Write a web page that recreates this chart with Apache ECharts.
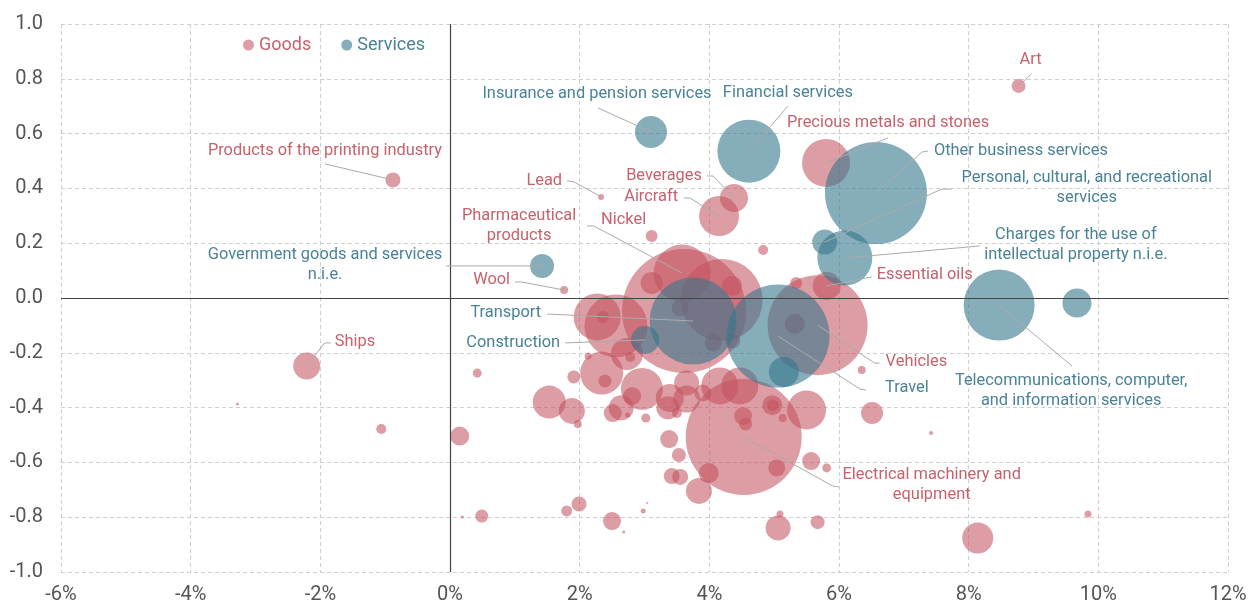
<!DOCTYPE html>
<html>
<head>
<meta charset="utf-8">
<script src="https://cdn.jsdelivr.net/npm/echarts@6/dist/echarts.min.js"></script>
<style>
  html, body { margin: 0; padding: 0; background: #fff; }
  #chart { width: 1255px; height: 606px; }
</style>
</head>
<body>
<div id="chart"></div>
<script>
// [growth %, correlation, bubble size, label]
const goods = [
  [8.77, 0.774, 14, 'Art'],
  [5.80, 0.493, 48, 'Precious metals and stones'],
  [-0.88, 0.431, 15, 'Products of the printing industry'],
  [2.33, 0.369, 6, 'Lead'],
  [4.38, 0.365, 28, 'Beverages'],
  [4.15, 0.299, 40, 'Aircraft'],
  [3.11, 0.226, 12, 'Nickel'],
  [4.83, 0.175, 10],
  [1.76, 0.029, 8, 'Wool'],
  [5.34, 0.055, 12],
  [5.81, 0.044, 28, 'Essential oils'],
  [3.11, 0.055, 22],
  [4.35, 0.044, 20],
  [3.55, -0.036, 17],
  [5.32, -0.095, 20],
  [4.06, -0.164, 17],
  [4.36, -0.157, 15],
  [3.61, -0.047, 124],
  [3.58, 0.091, 57, 'Pharmaceutical products'],
  [4.19, -0.007, 82],
  [5.67, -0.099, 100, 'Vehicles'],
  [2.27, -0.069, 47],
  [2.36, -0.069, 12],
  [2.56, -0.102, 63],
  [2.73, -0.204, 32],
  [2.78, -0.215, 10],
  [2.34, -0.274, 43],
  [2.39, -0.303, 13],
  [2.13, -0.212, 7],
  [1.91, -0.288, 13],
  [0.42, -0.274, 9],
  [1.53, -0.380, 33],
  [1.88, -0.412, 26],
  [1.97, -0.460, 8],
  [2.96, -0.332, 42],
  [2.81, -0.358, 18],
  [2.51, -0.420, 18],
  [2.64, -0.401, 25],
  [3.02, -0.438, 9],
  [2.74, -0.427, 5],
  [3.36, -0.401, 23],
  [3.39, -0.365, 28],
  [3.50, -0.420, 10],
  [3.65, -0.310, 25],
  [3.65, -0.369, 27],
  [3.90, -0.347, 17],
  [4.16, -0.321, 37],
  [4.47, -0.321, 37],
  [4.52, -0.431, 18],
  [4.56, -0.460, 13],
  [4.97, -0.391, 20],
  [4.98, -0.391, 12],
  [5.13, -0.438, 8],
  [5.50, -0.409, 39],
  [6.35, -0.263, 8],
  [6.51, -0.420, 22],
  [3.38, -0.515, 18],
  [3.53, -0.573, 14],
  [3.42, -0.650, 16],
  [3.55, -0.653, 16],
  [3.84, -0.704, 26],
  [3.99, -0.639, 20],
  [5.57, -0.595, 18],
  [5.81, -0.620, 9],
  [5.04, -0.620, 17],
  [4.53, -0.507, 116, 'Electrical machinery and equipment'],
  [0.15, -0.504, 19],
  [0.19, -0.799, 3],
  [0.49, -0.796, 13],
  [1.80, -0.777, 11],
  [1.99, -0.752, 15],
  [2.50, -0.814, 18],
  [2.68, -0.854, 3],
  [2.98, -0.777, 5],
  [3.04, -0.748, 2],
  [5.06, -0.839, 25],
  [5.09, -0.788, 7],
  [5.67, -0.818, 14],
  [8.14, -0.876, 31],
  [9.84, -0.788, 7],
  [7.42, -0.493, 4],
  [-2.21, -0.248, 27, 'Ships'],
  [-3.28, -0.387, 3],
  [-1.06, -0.478, 10]
];

const services = [
  [3.10, 0.606, 32, 'Insurance and pension services'],
  [4.61, 0.536, 63, 'Financial services'],
  [6.57, 0.383, 102, 'Other business services'],
  [5.78, 0.204, 25, 'Personal, cultural, and recreational services'],
  [6.09, 0.146, 55, 'Charges for the use of intellectual property n.i.e.'],
  [1.42, 0.117, 24, 'Government goods and services n.i.e.'],
  [8.47, -0.026, 71, 'Telecommunications, computer, and information services'],
  [9.67, -0.018, 29],
  [3.75, -0.084, 87, 'Transport'],
  [3.01, -0.153, 28, 'Construction'],
  [5.06, -0.139, 103, 'Travel'],
  [5.15, -0.270, 30]
];

const xTicks = { min: -6, max: 12, step: 2 };
const yTicks = { min: -1, max: 1, step: 0.2 };

const GOODS_COLOR = 'rgba(194, 80, 92, 0.7)';
const SERVICES_COLOR = 'rgba(54, 118, 140, 0.75)';
const GOODS_TEXT = '#c8616c';
const SERVICES_TEXT = '#4a8297';

// label placement, offsets in px from bubble center
const labelPlacement = {
  'Art': { text: 'Art', at: [12, -26], align: 'center', line: [[13, -12]] },
  'Insurance and pension services': { text: 'Insurance and pension services', at: [-54, -38], align: 'center', line: [[-53, -24]] },
  'Financial services': { text: 'Financial services', at: [39, -58], align: 'center', line: [[39, -45]] },
  'Precious metals and stones': { text: 'Precious metals and stones', at: [62, -40], align: 'center', line: [[62, -25]] },
  'Other business services': { text: 'Other business services', at: [58, -42], align: 'left', line: [[46, -41], [52, -42]] },
  'Personal, cultural, and recreational services': { text: 'Personal, cultural, and recreational\nservices', at: [262, -54], align: 'center', line: [[117, -53], [127, -53]] },
  'Charges for the use of intellectual property n.i.e.': { text: 'Charges for the use of\nintellectual property n.i.e.', at: [231, -13], align: 'center', line: [[135, -12]] },
  'Essential oils': { text: 'Essential oils', at: [50, -11], align: 'left', line: [[45, -9]] },
  'Products of the printing industry': { text: 'Products of the printing industry', at: [-68, -29], align: 'center', line: [[-68, -16]] },
  'Lead': { text: 'Lead', at: [-39, -16], align: 'right', line: [[-27, -15], [-34, -16]] },
  'Beverages': { text: 'Beverages', at: [-32, -22], align: 'right', line: [[-21, -22], [-27, -22]] },
  'Aircraft': { text: 'Aircraft', at: [-41, -19], align: 'right', line: [[-29, -18], [-35, -18]] },
  'Pharmaceutical products': { text: 'Pharmaceutical\nproducts', at: [-163, -47], align: 'center', line: [[-88, -47], [-95, -47]] },
  'Nickel': { text: 'Nickel', at: [-28, -16], align: 'center' },
  'Government goods and services n.i.e.': { text: 'Government goods and services\nn.i.e.', at: [-217, -1], align: 'center', line: [[-96, 0]] },
  'Wool': { text: 'Wool', at: [-54, -10], align: 'right', line: [[-42, -8], [-49, -8]] },
  'Ships': { text: 'Ships', at: [28, -24], align: 'left', line: [[18, -23], [24, -23]] },
  'Transport': { text: 'Transport', at: [-152, -8], align: 'right', line: [[-146, -7]] },
  'Construction': { text: 'Construction', at: [-85, 3], align: 'right', line: [[-80, 3]] },
  'Vehicles': { text: 'Vehicles', at: [68, 37], align: 'left', line: [[57, 38], [62, 38]] },
  'Travel': { text: 'Travel', at: [107, 52], align: 'left', line: [[82, 53], [88, 54]] },
  'Telecommunications, computer, and information services': { text: 'Telecommunications, computer,\nand information services', at: [72, 86], align: 'center', line: [[73, 61]] },
  'Electrical machinery and equipment': { text: 'Electrical machinery and\nequipment', at: [188, 48], align: 'center', line: [[89, 49], [95, 50]] }
};

const annotations = [];
goods.forEach(d => { if (d[3]) annotations.push({ x: d[0], y: d[1], name: d[3], color: GOODS_TEXT }); });
services.forEach(d => { if (d[3]) annotations.push({ x: d[0], y: d[1], name: d[3], color: SERVICES_TEXT }); });

const chart = echarts.init(document.getElementById('chart'));

const option = {
  animation: false,
  textStyle: { fontFamily: 'Roboto' },
  grid: { left: 61, right: 27, top: 24, bottom: 34 },
  legend: {
    left: 238,
    top: 31,
    icon: 'circle',
    itemWidth: 11,
    itemHeight: 11,
    itemGap: 30,
    textStyle: { fontSize: 18, fontFamily: 'Roboto' },
    data: [
      { name: 'Goods', textStyle: { color: GOODS_TEXT } },
      { name: 'Services', textStyle: { color: SERVICES_TEXT } }
    ]
  },
  xAxis: {
    type: 'value',
    min: xTicks.min,
    max: xTicks.max,
    interval: xTicks.step,
    axisLine: { show: false, onZero: false },
    axisTick: { show: false },
    axisLabel: { color: '#555', fontSize: 20, margin: 13, formatter: v => v + '%' },
    splitLine: { lineStyle: { type: [4, 3], color: '#cfcfcf' } }
  },
  yAxis: {
    type: 'value',
    min: yTicks.min,
    max: yTicks.max,
    interval: yTicks.step,
    axisLine: { show: false, onZero: false },
    axisTick: { show: false },
    axisLabel: { color: '#555', fontSize: 20, margin: 18, formatter: v => v.toFixed(1) },
    splitLine: { lineStyle: { type: [4, 3], color: '#cfcfcf' } }
  },
  series: [
    {
      name: 'Goods',
      type: 'scatter',
      data: goods,
      symbolSize: d => d[2],
      itemStyle: { color: GOODS_COLOR },
      emphasis: { disabled: true },
      z: 2,
      markLine: {
        silent: true,
        symbol: 'none',
        label: { show: false },
        lineStyle: { color: '#444', type: 'solid', width: 1.2 },
        data: [{ xAxis: 0 }, { yAxis: 0 }]
      }
    },
    {
      name: 'Services',
      type: 'scatter',
      data: services,
      symbolSize: d => d[2],
      itemStyle: { color: SERVICES_COLOR },
      emphasis: { disabled: true },
      z: 3
    },
    {
      type: 'custom',
      silent: true,
      z: 5,
      data: annotations.map(a => [a.x, a.y]),
      renderItem: (params, api) => {
        const a = annotations[params.dataIndex];
        const p = labelPlacement[a.name];
        const c = api.coord([api.value(0), api.value(1)]);
        const children = [];
        if (p.line) {
          const pts = [c].concat(p.line.map(o => [c[0] + o[0], c[1] + o[1]]));
          children.push({
            type: 'polyline',
            shape: { points: pts },
            style: { stroke: '#aaa', lineWidth: 1, fill: null }
          });
        }
        children.push({
          type: 'text',
          style: {
            text: p.text,
            x: c[0] + p.at[0],
            y: c[1] + p.at[1],
            align: p.align,
            verticalAlign: 'middle',
            fill: a.color,
            fontSize: 16.4,
            fontFamily: 'Roboto',
            lineHeight: 20
          }
        });
        return { type: 'group', children };
      }
    }
  ]
};

chart.setOption(option);
</script>
</body>
</html>
